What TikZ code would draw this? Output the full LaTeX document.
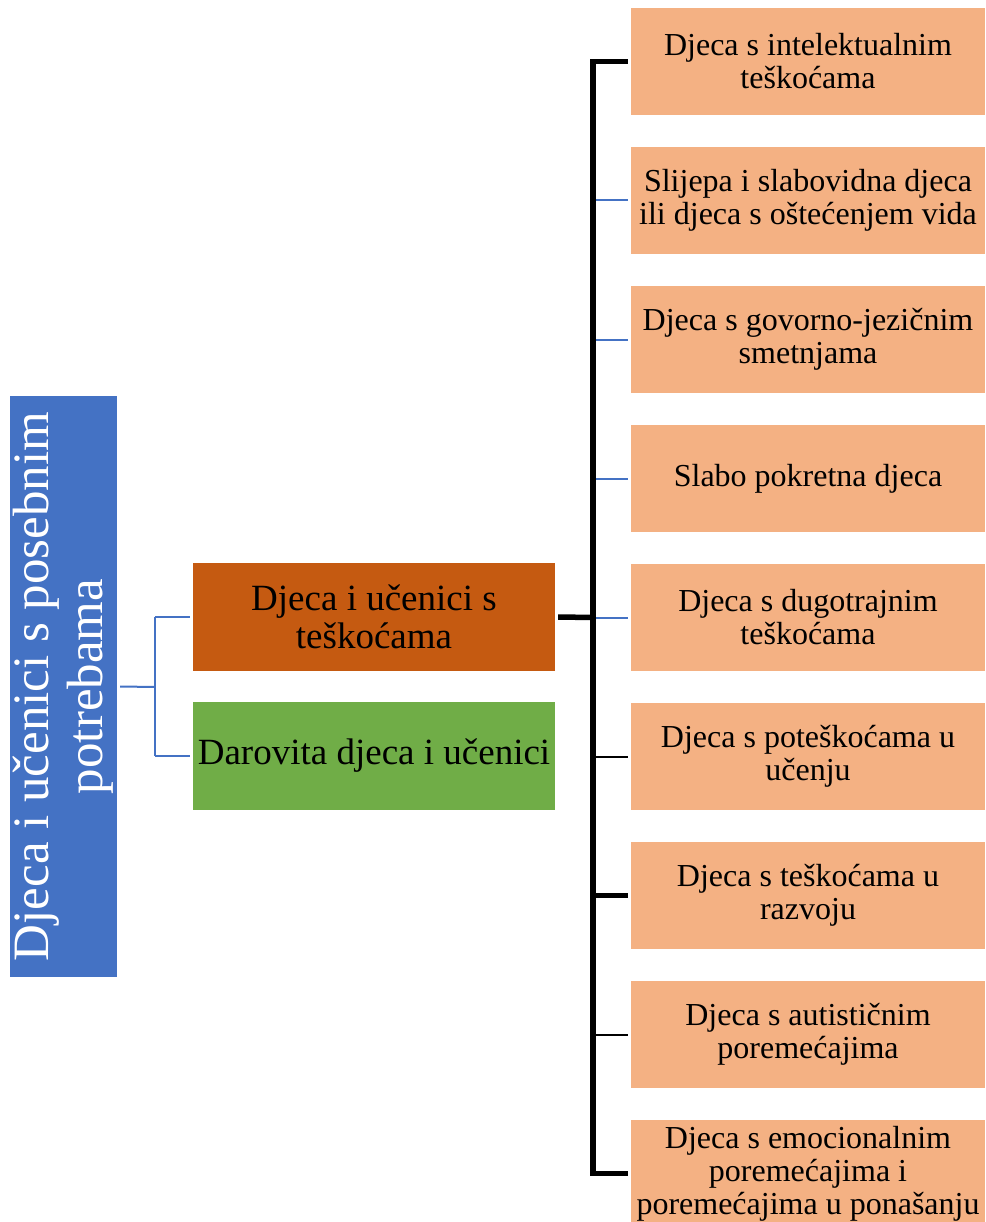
\documentclass[tikz,border=0pt]{standalone}
\usepackage{fontspec}
\setmainfont{Liberation Serif}
\definecolor{rootblue}{HTML}{4472C4}
\definecolor{linkblue}{HTML}{4472C4}
\definecolor{midorange}{HTML}{C55A11}
\definecolor{midgreen}{HTML}{70AD47}
\definecolor{peach}{HTML}{F4B183}
\begin{document}
\begin{tikzpicture}[x=1pt,y=-1pt,
  leaf/.style={fill=peach, draw=none, minimum width=354pt, minimum height=107pt, inner sep=0pt, align=center, font=\fontsize{32}{33}\selectfont},
  midbox/.style={draw=none, minimum width=362pt, minimum height=108pt, inner sep=0pt, align=center, font=\fontsize{37}{38}\selectfont},
  thinblue/.style={draw=linkblue, line width=2pt},
  thinblack/.style={draw=black, line width=2pt},
  thickblack/.style={draw=black, line width=5.5pt},
]
\useasboundingbox (0,0) rectangle (985,1222);
\clip (0,0) rectangle (985,1222);

\node[fill=rootblue, rotate=90, minimum width=581pt, minimum height=107pt, inner sep=0pt, align=center, text=white, font=\fontsize{51}{54}\selectfont] (root) at (63.5,686.5) {Djeca i učenici s posebnim\\potrebama};

\node[midbox, fill=midorange] (m1) at (374,617) {Djeca i učenici s\\teškoćama};
\node[midbox, fill=midgreen] (m2) at (374,756) {Darovita djeca i učenici};

\node[leaf] (r1) at (808,61.5) {Djeca s intelektualnim\\teškoćama};
\node[leaf] (r2) at (808,200.5) {Slijepa i slabovidna djeca\\ili djeca s oštećenjem vida};
\node[leaf] (r3) at (808,339.5) {Djeca s govorno-jezičnim\\smetnjama};
\node[leaf] (r4) at (808,478.5) {Slabo pokretna djeca};
\node[leaf] (r5) at (808,617.5) {Djeca s dugotrajnim\\teškoćama};
\node[leaf] (r6) at (808,756.5) {Djeca s poteškoćama u\\učenju};
\node[leaf] (r7) at (808,895.5) {Djeca s teškoćama u\\razvoju};
\node[leaf] (r8) at (808,1034.5) {Djeca s autističnim\\poremećajima};
\node[leaf, minimum height=108pt] (r9) at (808,1173.5) {Djeca s emocionalnim\\poremećajima i\\poremećajima u ponašanju};

% left connector
\coordinate (lj) at (155,687);
\coordinate (lj1) at (155,617);
\coordinate (lj2) at (155,756);
\draw[thinblue] (root.south) ++(3,0) -- (lj);
\draw[thinblue] (lj1) -- (lj2);
\draw[thinblue] (lj1) -- ([xshift=-3pt]m1.west);
\draw[thinblue] (lj2) -- ([xshift=-3pt]m2.west);

% right bar
\coordinate (b1) at (593,61.5);
\coordinate (b2) at (593,200.5);
\coordinate (b3) at (593,339.5);
\coordinate (b4) at (593,478.5);
\coordinate (b5) at (593,617.5);
\coordinate (b6) at (593,756.5);
\coordinate (b7) at (593,895.5);
\coordinate (b8) at (593,1034.5);
\coordinate (b9) at (593,1173.5);

\draw[thinblue] (b2) -- ([xshift=-3pt]r2.west);
\draw[thinblue] (b3) -- ([xshift=-3pt]r3.west);
\draw[thinblue] (b4) -- ([xshift=-3pt]r4.west);
\draw[thinblue] (b5) -- ([xshift=-3pt]r5.west);
\draw[thinblack] (b6) -- ([xshift=-3pt]r6.west);
\draw[thinblack] (b8) -- ([xshift=-3pt]r8.west);
\draw[thickblack] (b7) -- ([xshift=-3pt]r7.west);
\draw[thickblack] ([xshift=3pt]m1.east) -- (b5);
\draw[thickblack, line join=miter] ([xshift=-3pt]r1.west) -- (b1) -- (b9) -- ([xshift=-3pt]r9.west);
\end{tikzpicture}
\end{document}
